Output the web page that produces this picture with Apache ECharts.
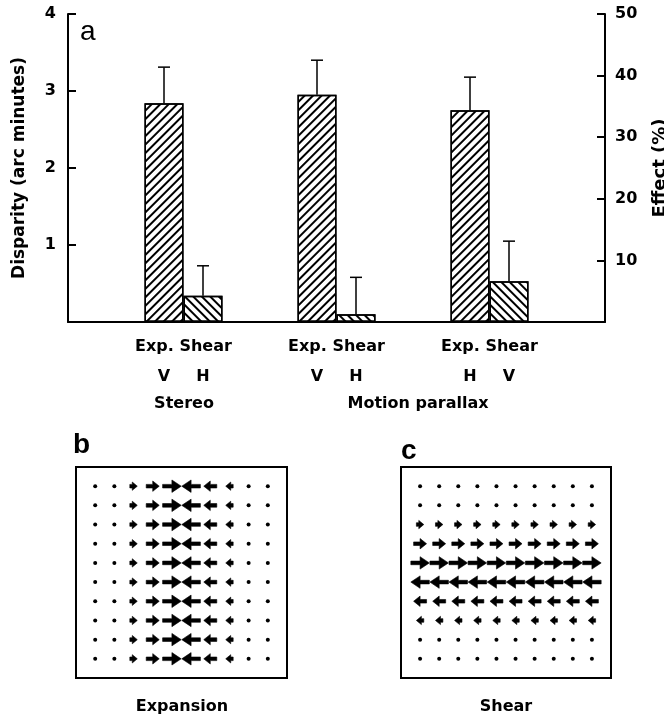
<!DOCTYPE html>
<html><head><meta charset="utf-8">
<script src="https://cdn.jsdelivr.net/npm/echarts@6/dist/echarts.min.js"></script>
<style>html,body{margin:0;padding:0;background:#fff}#c{width:664px;height:720px}</style>
</head><body><div id="c"></div>
<script>
// ---- data ----
const groupKeys = ['g1', 'g2', 'g3'];
const typeLabels = ['Exp.', 'Shear'];
const expDirections = ['V', 'V', 'H'];
const shearDirections = ['H', 'H', 'V'];
const conditionLabels = ['Stereo', 'Motion parallax'];
const expValues = [2.84, 2.95, 2.75];
const expErrorTops = [3.31, 3.40, 3.18];
const shearValues = [0.34, 0.10, 0.53];
const shearErrorTops = [0.73, 0.58, 1.05];
const leftTicks = [1, 2, 3, 4];
const rightTicks = [10, 20, 30, 40, 50];
const fieldIndex = [0, 1, 2, 3, 4, 5, 6, 7, 8, 9];
const expansionByColumn = [0, 0, 0.4, 0.7, 1, -1, -0.7, -0.4, 0, 0];
const shearByRow = [0, 0, 0.4, 0.7, 1, -1, -0.7, -0.4, 0, 0];
const panelLabels = ['a', 'b', 'c'];
const panelCaptions = ['Expansion', 'Shear'];

// ---- styles ----
const FONT = 'DejaVu Sans';
const BAR_W = 39;
const CAP = 6;
const txt = {fontFamily: FONT, fontWeight: 'bold', fontSize: 16, color: '#000'};

const expansionData = [];
const shearData = [];
fieldIndex.forEach(r => fieldIndex.forEach(c => {
  expansionData.push([c, r, expansionByColumn[c]]);
  shearData.push([c, r, shearByRow[r]]);
}));

function errRender(side) {
  return function (params, api) {
    const i = api.value(0);
    const x = api.coord([i, 0])[0] + side * BAR_W / 2;
    const y1 = api.coord([i, api.value(1)])[1];
    const y2 = api.coord([i, api.value(2)])[1];
    return {type: 'group', children: [
      {type: 'line', shape: {x1: x, y1: y1, x2: x, y2: y2}, style: {stroke: '#000', lineWidth: 1.5}},
      {type: 'line', shape: {x1: x - CAP, y1: y2, x2: x + CAP, y2: y2}, style: {stroke: '#000', lineWidth: 1.5}}
    ]};
  };
}

function arrowRender(params, api) {
  const p = api.coord([api.value(0), api.value(1)]);
  const u = api.value(2);
  const unit = api.size([1, 1])[0];
  const m = Math.abs(u);
  if (m < 0.05) {
    return {type: 'circle', shape: {cx: p[0], cy: p[1], r: 2}, style: {fill: '#000'}};
  }
  const d = Math.sign(u);
  const L = m * unit * 0.97;
  const H = Math.max(5, L * 0.5);
  const tail = p[0] - d * L / 2, tip = p[0] + d * L / 2, base = tip - d * H;
  const sw = 1.8, hw = 2.8 + 3.4 * m;
  const y = p[1];
  return {type: 'polygon', shape: {points: [
    [tail, y - sw], [base, y - sw], [base, y - hw], [tip, y], [base, y + hw], [base, y + sw], [tail, y + sw]
  ]}, style: {fill: '#000', stroke: '#000', lineWidth: 0.6, lineJoin: 'round'}};
}

const hatch = rot => ({symbol: 'rect', symbolSize: 1, dashArrayX: [1, 0], dashArrayY: [1.2, 3.8],
  rotation: rot, color: '#000', backgroundColor: null});

const hiddenAxis = (grid, min, max, extra) => Object.assign({
  type: 'value', gridIndex: grid, min: min, max: max, show: false
}, extra || {});

const chart = echarts.init(document.getElementById('c'), null, {renderer: 'canvas'});
chart.setOption({
  animation: false,
  backgroundColor: '#fff',
  grid: [
    {left: 68, top: 14, width: 537, height: 308, outerBoundsMode: 'none', containLabel: false},
    {left: 107, top: 14, width: 459, height: 308, outerBoundsMode: 'none', containLabel: false},
    {left: 76, top: 467, width: 211, height: 211, show: true, borderColor: '#000', borderWidth: 2, backgroundColor: 'transparent', outerBoundsMode: 'none'},
    {left: 401, top: 467, width: 210, height: 211, show: true, borderColor: '#000', borderWidth: 2, backgroundColor: 'transparent', outerBoundsMode: 'none'}
  ],
  xAxis: [
    {type: 'value', gridIndex: 0, min: 0, max: 1, axisLine: {show: true, onZero: false, lineStyle: {color: '#000', width: 2}},
     axisTick: {show: false}, axisLabel: {show: false}, splitLine: {show: false}},
    {type: 'category', gridIndex: 1, data: groupKeys, axisLine: {show: false}, axisTick: {show: false},
     axisLabel: {margin: 10, interval: 0, lineHeight: 30, ...txt,
       formatter: (v, i) => typeLabels.join(' ') + '\n{d|' + expDirections[i] + '}{d|' + shearDirections[i] + '}',
       rich: {d: {width: BAR_W, align: 'center', ...txt, lineHeight: 30}}}},
    hiddenAxis(2, -1, 10),
    hiddenAxis(3, -1, 10)
  ],
  yAxis: [
    {type: 'value', gridIndex: 0, position: 'left', min: 0, max: 4, interval: 1,
     axisLine: {show: true, onZero: false, lineStyle: {color: '#000', width: 2}},
     axisTick: {show: true, inside: true, length: 8, lineStyle: {color: '#000', width: 2}},
     axisLabel: {...txt, margin: 12, formatter: v => leftTicks.includes(v) ? String(v) : ''},
     splitLine: {show: false},
     name: 'Disparity (arc minutes)', nameLocation: 'middle', nameRotate: 90, nameGap: 40, nameTextStyle: {...txt, fontSize: 17}},
    {type: 'value', gridIndex: 0, position: 'right', min: 0, max: 50, interval: 10,
     axisLine: {show: true, onZero: false, lineStyle: {color: '#000', width: 2}},
     axisTick: {show: true, inside: true, length: 8, lineStyle: {color: '#000', width: 2}},
     axisLabel: {...txt, margin: 10, formatter: v => rightTicks.includes(v) ? String(v) : ''},
     splitLine: {show: false},
     name: 'Effect (%)', nameLocation: 'middle', nameRotate: 90, nameGap: 46, nameTextStyle: {...txt, fontSize: 18}},
    hiddenAxis(1, 0, 4),
    hiddenAxis(2, -1, 10, {inverse: true}),
    hiddenAxis(3, -1, 10, {inverse: true})
  ],
  series: [
    {type: 'bar', xAxisIndex: 1, yAxisIndex: 2, barWidth: BAR_W, barGap: '0%', data: expValues, z: 2,
     itemStyle: {color: '#fff', borderColor: '#000', borderWidth: 1.5, decal: hatch(-Math.PI / 4)}},
    {type: 'bar', xAxisIndex: 1, yAxisIndex: 2, barWidth: BAR_W, barGap: '0%', data: shearValues, z: 2,
     itemStyle: {color: '#fff', borderColor: '#000', borderWidth: 1.5, decal: hatch(Math.PI / 4)}},
    {type: 'custom', xAxisIndex: 1, yAxisIndex: 2, z: 3, renderItem: errRender(-1),
     data: groupKeys.map((g, i) => [i, expValues[i], expErrorTops[i]])},
    {type: 'custom', xAxisIndex: 1, yAxisIndex: 2, z: 3, renderItem: errRender(1),
     data: groupKeys.map((g, i) => [i, shearValues[i], shearErrorTops[i]])},
    {type: 'custom', xAxisIndex: 2, yAxisIndex: 3, renderItem: arrowRender, data: expansionData},
    {type: 'custom', xAxisIndex: 3, yAxisIndex: 4, renderItem: arrowRender, data: shearData}
  ],
  graphic: [
    {type: 'text', left: 80, top: 18, style: {text: panelLabels[0], font: 'normal 28px "Liberation Sans"', fill: '#000'}},
    {type: 'text', left: 73, top: 431, style: {text: panelLabels[1], font: 'bold 28px "Liberation Sans"', fill: '#000'}},
    {type: 'text', left: 401, top: 437, style: {text: panelLabels[2], font: 'bold 28px "Liberation Sans"', fill: '#000'}},
    {type: 'text', x: 184, y: 404, style: {text: conditionLabels[0], fill: '#000', font: 'bold 16px "DejaVu Sans"', textAlign: 'center', textVerticalAlign: 'middle'}},
    {type: 'text', x: 418, y: 404, style: {text: conditionLabels[1], fill: '#000', font: 'bold 16px "DejaVu Sans"', textAlign: 'center', textVerticalAlign: 'middle'}},
    {type: 'text', x: 182, y: 707, style: {text: panelCaptions[0], fill: '#000', font: 'bold 16px "DejaVu Sans"', textAlign: 'center', textVerticalAlign: 'middle'}},
    {type: 'text', x: 506, y: 707, style: {text: panelCaptions[1], fill: '#000', font: 'bold 16px "DejaVu Sans"', textAlign: 'center', textVerticalAlign: 'middle'}}
  ]
});
</script></body></html>
